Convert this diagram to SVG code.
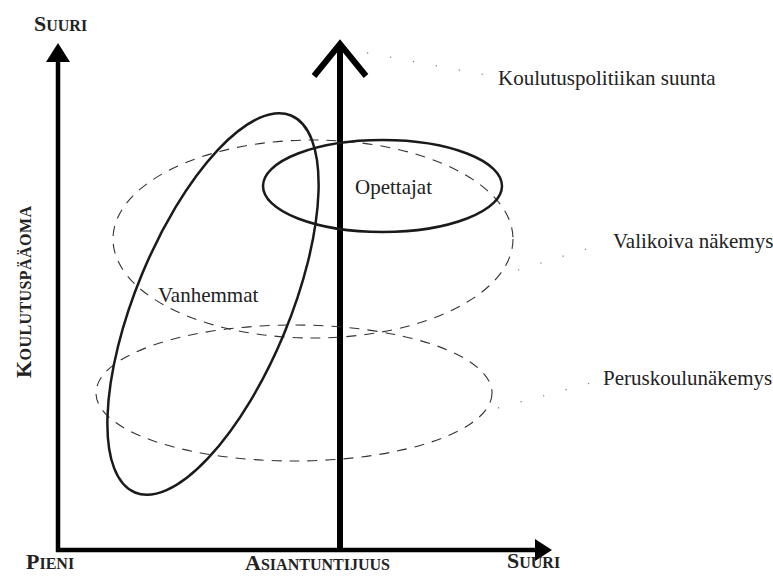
<svg xmlns="http://www.w3.org/2000/svg" width="773" height="576" viewBox="0 0 773 576">
<style>
.lbl{font-family:"Liberation Serif","Times New Roman",serif;font-size:21px;fill:#222}
.cap{font-family:"Liberation Serif","Times New Roman",serif;font-weight:bold;font-size:22px;fill:#222}
.sc{font-size:16px}
.axis{stroke:#000;stroke-width:4.5;fill:none}
.solid{fill:none;stroke:#1a1a1a;stroke-width:2.5}
.dash{fill:none;stroke:#333;stroke-width:1.1;stroke-dasharray:10 8}
.lead{stroke:#888;stroke-width:1.3;stroke-dasharray:1.3 22;fill:none}
</style>
<rect width="773" height="576" fill="#fff"/>
<g id="connectors">
  <line class="axis" x1="58" y1="60" x2="58" y2="552"/>
  <polygon points="58,43 46,62 70,62" fill="#000"/>
  <line class="axis" x1="56" y1="550" x2="540" y2="550"/>
  <polygon points="552,550 535,539 535,561" fill="#000"/>
  <line x1="340" y1="46" x2="340" y2="552" stroke="#000" stroke-width="6"/>
  <polyline points="314,76 340,44 366,76" fill="none" stroke="#000" stroke-width="6" stroke-linejoin="miter"/>
  <line class="lead" x1="367" y1="53" x2="492" y2="76"/>
  <line class="lead" x1="518" y1="270" x2="603" y2="244"/>
  <line class="lead" x1="498" y1="408" x2="598" y2="381"/>
</g>
<g id="valikoiva">
  <ellipse class="dash" cx="313" cy="239" rx="200" ry="99"/>
  <text class="lbl" x="613" y="248">Valikoiva näkemys</text>
</g>
<g id="peruskoulu">
  <ellipse class="dash" cx="294" cy="393" rx="198" ry="68"/>
  <text class="lbl" x="603" y="385">Peruskoulunäkemys</text>
</g>
<g id="vanhemmat">
  <ellipse class="solid" cx="213" cy="304" rx="77" ry="204" transform="rotate(22.5 213 304)"/>
  <text class="lbl" x="158" y="302">Vanhemmat</text>
</g>
<g id="opettajat">
  <ellipse class="solid" cx="382.5" cy="186" rx="119.5" ry="46"/>
  <text class="lbl" x="355" y="194">Opettajat</text>
</g>
<g id="suunta">
  <text class="lbl" x="498" y="85">Koulutuspolitiikan suunta</text>
</g>
<g id="labels">
  <text class="cap" x="34" y="31">S<tspan class="sc">UURI</tspan></text>
  <text class="cap" x="26" y="569">P<tspan class="sc">IENI</tspan></text>
  <text class="cap" x="245" y="570" textLength="145">A<tspan class="sc">SIANTUNTIJUUS</tspan></text>
  <text class="cap" x="507" y="568">S<tspan class="sc">UURI</tspan></text>
  <text class="cap" transform="translate(31 292) rotate(-90)" text-anchor="middle" textLength="172">K<tspan class="sc">OULUTUSPÄÄOMA</tspan></text>
</g>
</svg>
